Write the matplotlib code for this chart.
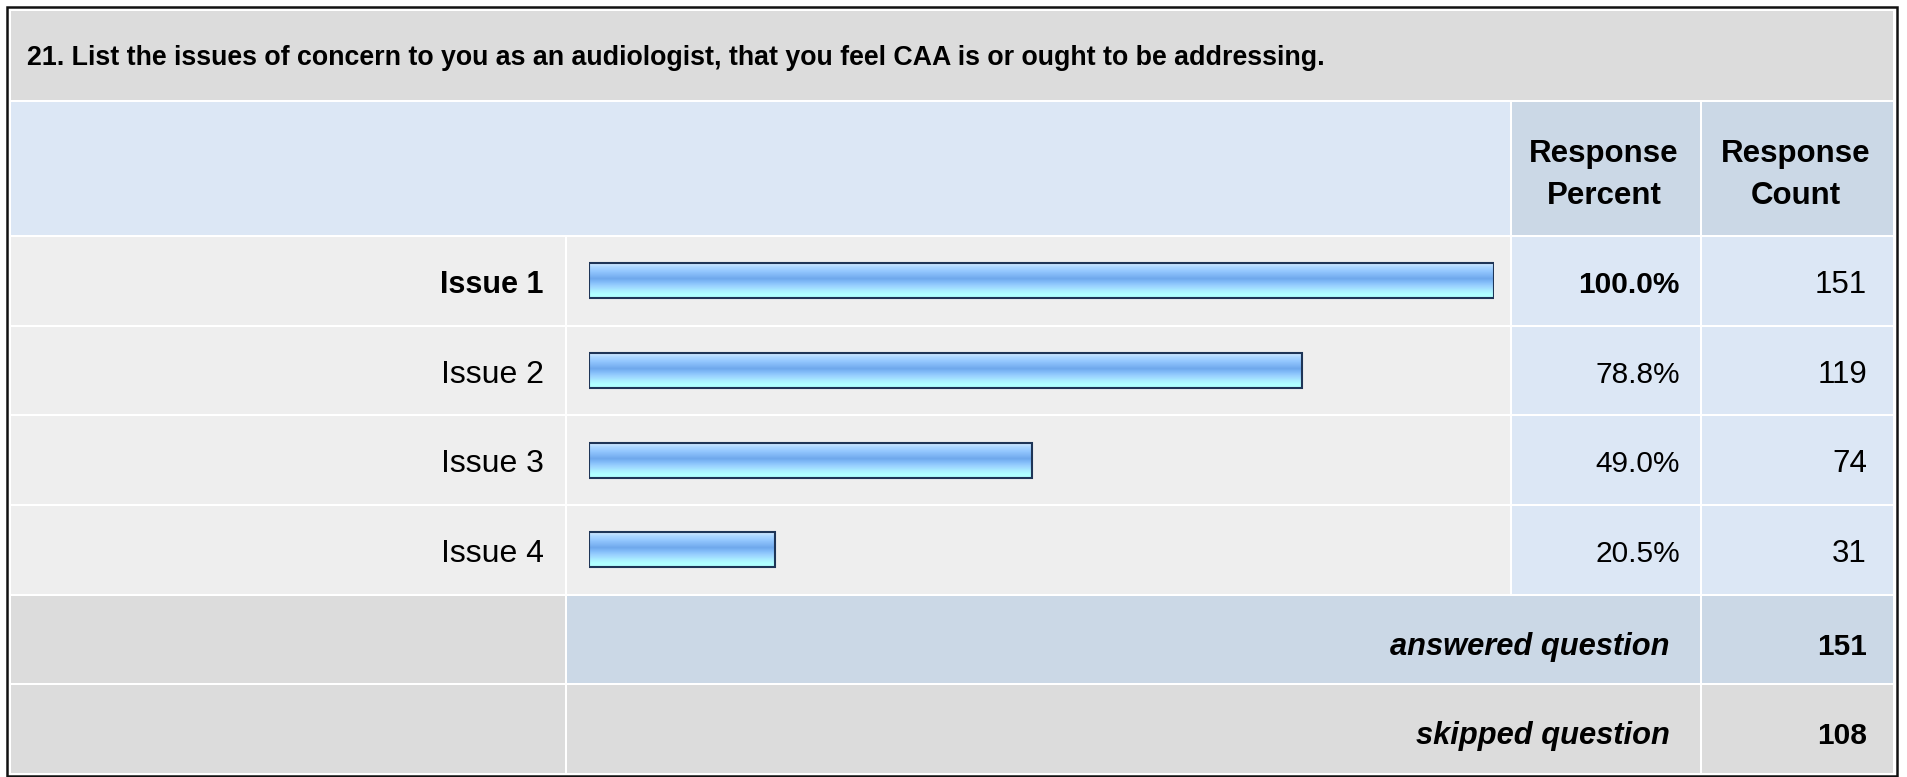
import matplotlib
matplotlib.use("Agg")
import matplotlib.pyplot as plt
import numpy as np
from matplotlib.patches import Rectangle
from matplotlib.colors import LinearSegmentedColormap

plt.rcParams['font.family'] = ['Liberation Sans', 'DejaVu Sans']

question = "21. List the issues of concern to you as an audiologist, that you feel CAA is or ought to be addressing."
col_headers = [("Response", "Percent"), ("Response", "Count")]
issues = ["Issue 1", "Issue 2", "Issue 3", "Issue 4"]
percents = [100.0, 78.8, 49.0, 20.5]
counts = [151, 119, 74, 31]
footer_labels = ["answered question", "skipped question"]
footer_counts = [151, 108]

# --- layout in pixels (figure is 1907 x 777 at dpi 100) ---
W, H = 1907, 777
COL_LABEL = (11, 565)
COL_BAR = (567, 1510)
COL_PCT = (1512, 1700)
COL_CNT = (1702, 1893)
TITLE_ROW = (11, 100)
HEAD_ROW = (102, 235)
ROW_TOP, ROW_STEP = 236, 89.67
BAR_X0, BAR_X100 = 589, 1494
BASE_OFF = 12  # baseline offset below a row's centre

GREY = '#dcdcdc'
LIGHT = '#eeeeee'
BLUE = '#dce7f5'
BLUE_DARK = '#cbd8e6'


def cell(ax, xs, ys, color):
    """Fills one table cell given its pixel extents."""
    ax.add_patch(Rectangle((xs[0], ys[0]), xs[1] - xs[0], ys[1] - ys[0],
                           facecolor=color, edgecolor='none', zorder=1))


def row_span(i):
    top = ROW_TOP + i * ROW_STEP
    return (top + 1, top + ROW_STEP - 1)


def draw_table(ax):
    """Draws the cell backgrounds and all the text of the table."""
    cell(ax, (COL_LABEL[0], COL_CNT[1]), TITLE_ROW, GREY)
    ax.text(27, 65, question, fontsize=19.3, fontweight='bold', va='baseline', ha='left')

    cell(ax, (COL_LABEL[0], COL_BAR[1]), HEAD_ROW, BLUE)
    cell(ax, COL_PCT, HEAD_ROW, BLUE_DARK)
    cell(ax, COL_CNT, HEAD_ROW, BLUE_DARK)
    for cols, (line1, line2) in zip([COL_PCT, COL_CNT], col_headers):
        cx = sum(cols) / 2 - 2
        ax.text(cx, 162, line1, fontsize=22.5, fontweight='bold', ha='center', va='baseline')
        ax.text(cx, 204, line2, fontsize=22.5, fontweight='bold', ha='center', va='baseline')

    top_pct = max(percents)
    for i, (name, pct, cnt) in enumerate(zip(issues, percents, counts)):
        ys = row_span(i)
        by = sum(ys) / 2 + BASE_OFF
        cell(ax, COL_LABEL, ys, LIGHT)
        cell(ax, COL_BAR, ys, LIGHT)
        cell(ax, COL_PCT, ys, BLUE)
        cell(ax, COL_CNT, ys, BLUE)
        bold = pct == top_pct
        ax.text(544, by, name, fontsize=22 if bold else 23,
                fontweight='bold' if bold else 'normal', ha='right', va='baseline')
        ax.text(1680, by, f"{pct:.1f}%", fontsize=21.5,
                fontweight='bold' if bold else 'normal', ha='right', va='baseline')
        ax.text(1867, by, str(cnt), fontsize=22.5, ha='right', va='baseline')

    for j, (lbl, cnt) in enumerate(zip(footer_labels, footer_counts)):
        ys = row_span(len(issues) + j)
        by = sum(ys) / 2 + BASE_OFF + 3
        mid = BLUE_DARK if j == 0 else GREY
        cell(ax, COL_LABEL, ys, GREY)
        cell(ax, (COL_BAR[0], COL_PCT[1]), ys, mid)
        cell(ax, COL_CNT, ys, mid)
        ax.text(1670, by, lbl, fontsize=22.2, fontweight='bold', fontstyle='italic',
                ha='right', va='baseline')
        ax.text(1867, by, str(cnt), fontsize=21.5, fontweight='bold', ha='right', va='baseline')

    ax.add_patch(Rectangle((6.5, 6.5), 1890, 769, facecolor='none',
                           edgecolor='#111111', linewidth=1.8, zorder=5))


def draw_bars(fig):
    """Draws the gradient bars in their own axes, scaled 0-100 percent."""
    y_top = ROW_TOP
    y_bot = ROW_TOP + len(issues) * ROW_STEP
    bax = fig.add_axes([BAR_X0 / W, 1 - y_bot / H, (BAR_X100 - BAR_X0) / W, (y_bot - y_top) / H])
    bax.patch.set_alpha(0)
    bax.axis('off')

    stops = ['#d3eaff', '#aad6ff', '#95c8ff', '#82b9f6', '#6fa8ec',
             '#84befa', '#9cd3ff', '#a8eaff', '#b0ffff', '#b0ffff']
    cmap = LinearSegmentedColormap.from_list('bar', stops)
    grad = np.linspace(0, 1, 64).reshape(-1, 1)

    bars = bax.barh(range(len(issues)), percents, height=0.39, color='none',
                    edgecolor='#1e3557', linewidth=1.5, zorder=3)
    for b in bars:
        x0, y0 = b.get_x(), b.get_y()
        im = bax.imshow(grad, extent=(x0, x0 + b.get_width(), y0 + b.get_height(), y0),
                        aspect='auto', cmap=cmap, interpolation='bilinear', zorder=2)
        im.set_clip_path(b)
    bax.set_xlim(0, 100)
    bax.set_ylim(len(issues) - 0.5, -0.5)


if __name__ == "__main__":
    fig = plt.figure(figsize=(W / 100, H / 100), dpi=100)
    fig.patch.set_facecolor('white')
    ax = fig.add_axes([0, 0, 1, 1])
    ax.set_xlim(0, W)
    ax.set_ylim(H, 0)
    ax.axis('off')

    draw_table(ax)
    draw_bars(fig)
    fig.savefig("out.png", dpi=100)
